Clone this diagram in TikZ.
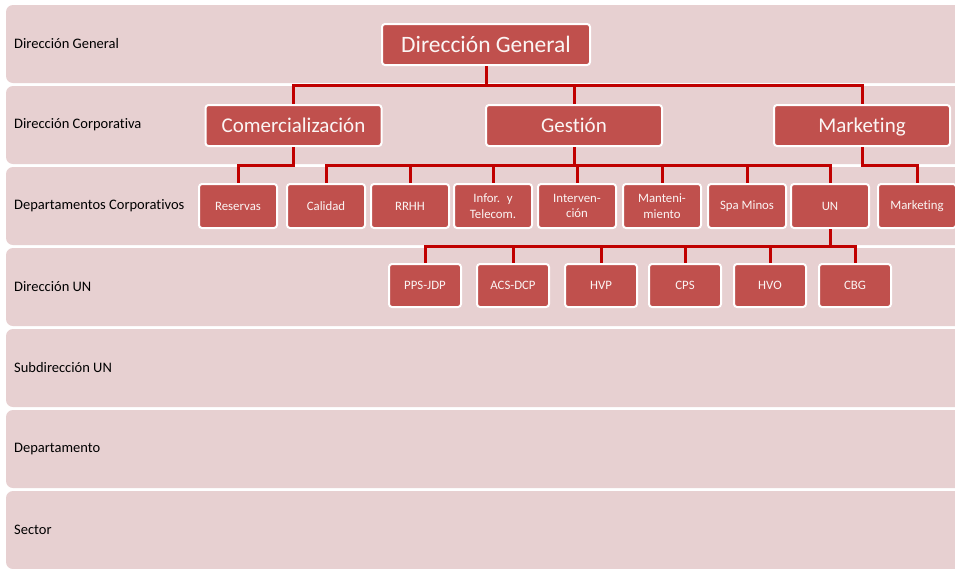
\documentclass[tikz,border=0pt]{standalone}
\usepackage{fontspec}
\setmainfont{Carlito}[Ligatures=CommonOff]

\definecolor{bandpink}{RGB}{231,208,209}
\definecolor{boxred}{RGB}{192,80,77}
\definecolor{linkred}{RGB}{192,0,0}

\tikzset{
  levellabel/.style={anchor=west, inner sep=0pt, text=black, font=\fontsize{14.5}{17}\selectfont},
  orgbox/.style={draw=white, line width=2pt, fill=boxred, rounded corners=3pt, text=white!94!boxred, align=center, inner sep=0pt},
  topbox/.style={orgbox, minimum width=208pt, minimum height=41pt, text height=18.5pt, text depth=2.5pt, font=\fontsize{23.5}{26}\selectfont},
  midbox/.style={orgbox, minimum width=176pt, minimum height=41pt, text height=16.2pt, text depth=2.8pt, font=\fontsize{21}{24}\selectfont},
  deptbox/.style={orgbox, minimum width=78pt, minimum height=44pt, font=\fontsize{12.8}{15.5}\selectfont},
  unbox/.style={orgbox, minimum width=72pt, minimum height=43pt, font=\fontsize{12.8}{15.5}\selectfont},
  link/.style={draw=linkred, line width=3pt},
}

% one grey-pink level strip with its label
\NewDocumentCommand{\levelband}{mmm}{%
\fill[bandpink, rounded corners=7pt] (6,#2) rectangle (975,#2+78);%
\node[levellabel] (#1) at (14,#2+39) {#3};%
}

% elbow connectors from a parent down to its children
\NewDocumentCommand{\branch}{mmm}{%
\foreach \kid in {#3} {\draw[link] (#1.south) -- (#1.south |- 0,#2) -| (\kid.north);}%
}

\begin{document}
\begin{tikzpicture}[x=1pt, y=-1pt]
\fill[white] (0,0) rectangle (955,568);
\useasboundingbox (0,0) rectangle (955,568);

\levelband{lvgen}{5}{Dirección General}
\levelband{lvcorp}{86}{Dirección Corporativa}
\levelband{lvdept}{167}{Departamentos Corporativos}
\levelband{lvun}{248}{Dirección UN}
\levelband{lvsub}{329}{Subdirección UN}
\levelband{lvdep}{410}{Departamento}
\levelband{lvsec}{491}{Sector}

\node[topbox] (dg) at (486,44.5) {Dirección General};

\node[midbox] (comer) at (293.5,125.5) {Comercialización};
\node[midbox] (gest) at (574,125.5) {Gestión};
\node[midbox] (mkt) at (862,125.5) {Marketing};

\foreach \nm/\x/\txt in {reserv/238/Reservas, calid/326/Calidad, rrhh/410/RRHH,
    infor/493/{Infor.~ y\\Telecom.}, interv/577/{Interven-\\ción},
    mant/662/{Manteni-\\miento}, spa/747/Spa Minos, un/830/UN, mktd/917/Marketing}
  \node[deptbox] (\nm) at (\x,206) {\txt};

\foreach \nm/\x/\txt in {pps/425/PPS-JDP, acs/513/ACS-DCP, hvp/601/HVP,
    cps/685/CPS, hvo/770/HVO, cbg/855/CBG}
  \node[unbox] (\nm) at (\x,285.5) {\txt};

\branch{dg}{85}{comer,gest,mkt}
\branch{comer}{165}{reserv}
\branch{gest}{165}{calid,rrhh,infor,interv,mant,spa,un}
\branch{mkt}{165}{mktd}
\branch{un}{246}{pps,acs,hvp,cps,hvo,cbg}
\end{tikzpicture}
\end{document}
